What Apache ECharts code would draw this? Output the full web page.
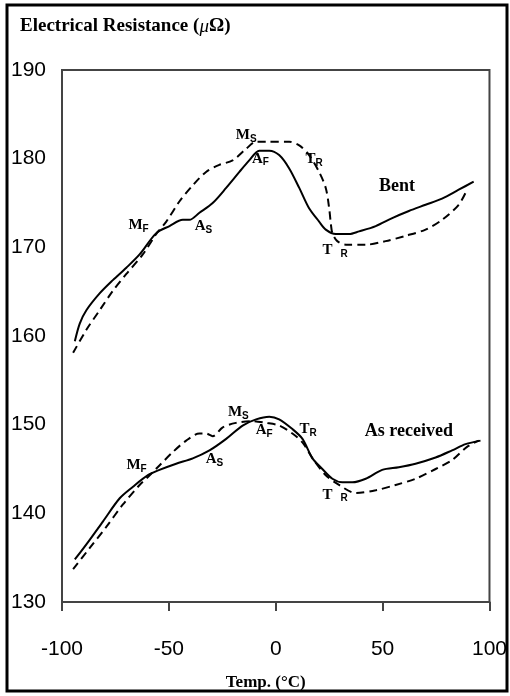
<!DOCTYPE html>
<html>
<head>
<meta charset="utf-8">
<script src="https://cdn.jsdelivr.net/npm/echarts@6/dist/echarts.min.js"></script>
<style>
html,body{margin:0;padding:0;background:#fff;}
#chart{width:510px;height:696px;}
</style>
</head>
<body>
<div id="chart"></div>
<script>
// ---- data (temperature in °C, resistance in µΩ) ----
const xTicks = [-100, -50, 0, 50, 100];
const yTicks = [130, 140, 150, 160, 170, 180, 190];

// Bent sample, solid curve
const bentSolidT = [-94.0,-91.7,-88.6,-82.4,-76.2,-69.9,-63.7,-55.9,-49.7,-43.5,-40.4,-35.7,-29.5,-23.2,-17.0,-12.4,-7.7,-3.0,1.6,6.3,11.0,15.6,20.3,23.4,28.1,34.3,39.0,46.8,54.5,62.3,70.1,77.8,85.6,92.6];
const bentSolidR = [159.4,161.4,162.9,164.8,166.3,167.7,169.2,171.6,172.4,173.1,173.1,173.9,175.0,176.7,178.5,179.8,180.9,180.9,180.4,178.9,176.7,174.4,172.9,172.0,171.5,171.5,171.8,172.4,173.3,174.1,174.8,175.5,176.5,177.4];

// Bent sample, dashed curve
const bentDashT = [-94.8,-88.6,-82.4,-76.2,-69.9,-62.2,-55.9,-51.2,-45.0,-38.8,-32.6,-26.4,-20.2,-13.9,-9.2,-4.6,6.3,11.0,15.6,20.3,23.4,25.0,25.8,26.5,28.8,32.8,42.1,51.4,60.8,70.1,77.8,85.6,89.5];
const bentDashR = [158.1,160.7,162.9,165.1,167.0,169.2,171.5,172.9,175.2,177.0,178.5,179.3,179.8,181.1,181.9,181.9,181.9,181.5,180.4,178.5,176.7,174.4,172.6,171.6,170.7,170.3,170.3,170.7,171.3,172.0,173.1,174.8,176.5];

// As received sample, solid curve
const asRecSolidT = [-94.0,-88.6,-80.8,-73.0,-66.8,-59.8,-54.4,-46.6,-38.8,-31.0,-23.2,-15.5,-9.2,-3.0,1.6,7.8,12.5,17.2,21.8,26.5,31.2,35.8,42.1,49.8,57.6,65.4,74.8,82.5,88.8,95.8];
const asRecSolidR = [134.8,136.5,139.1,141.7,143.0,144.3,144.9,145.6,146.2,147.1,148.4,149.9,150.6,150.9,150.6,149.5,148.4,146.2,145.0,143.9,143.5,143.5,143.9,144.9,145.2,145.6,146.3,147.1,147.8,148.2];

// As received sample, dashed curve
const asRecDashT = [-94.8,-87.0,-79.2,-71.5,-63.7,-59.8,-54.4,-48.2,-41.9,-35.7,-32.6,-29.5,-24.8,-18.6,-10.8,-4.6,1.6,7.8,12.5,17.2,23.4,29.6,37.4,46.8,56.1,65.4,74.8,82.5,89.5,95.0];
const asRecDashR = [133.7,136.1,138.5,141.0,143.2,144.1,145.4,146.9,148.2,149.0,149.0,148.7,149.7,150.2,150.4,150.2,149.9,149.0,148.0,146.2,144.3,143.2,142.3,142.6,143.2,143.9,145.0,146.0,147.5,148.2];

// annotation labels (text, anchor temperature, anchor resistance)
const bentNotes = [
  ['{m|M}{s|S}', -13.8, 182.6],
  ['{m|A}{s|F}', -7.2, 180.0],
  ['{m|T}{s|R}', 18.0, 179.9],
  ['{b|Bent}', 56.7, 176.9],
  ['{m|M}{s|F}', -64.2, 172.5],
  ['{m|A}{s|S}', -33.8, 172.4],
  ['{m|T}{g| }{s|R}', 27.8, 169.7]
];
const asRecNotes = [
  ['{m|M}{s|S}', -17.5, 151.4],
  ['{m|A}{s|F}', -5.4, 149.4],
  ['{m|T}{s|R}', 15.2, 149.5],
  ['{b|As received}', 62.3, 149.3],
  ['{m|M}{s|F}', -65.1, 145.4],
  ['{m|A}{s|S}', -28.7, 146.1],
  ['{m|T}{g| }{s|R}', 27.8, 142.1]
];

function pairs(xs, ys){ return xs.map((x,i)=>[x, ys[i]]); }

const rich = {
  m: {fontFamily:'Liberation Serif', fontWeight:'bold', fontSize:15, color:'#000', lineHeight:18, verticalAlign:'middle'},
  s: {fontFamily:'Liberation Sans', fontWeight:'bold', fontSize:10, color:'#000', lineHeight:18, verticalAlign:'bottom'},
  g: {fontSize:10, width:8, lineHeight:18},
  b: {fontFamily:'Liberation Serif', fontWeight:'bold', fontSize:18, color:'#000', lineHeight:18}
};

function notes(list){
  return {
    symbol: 'circle', symbolSize: 0, silent: true,
    itemStyle: {color: 'transparent'},
    label: {show: true, position: 'inside', formatter: p => p.name, rich: rich},
    data: list.map(n => ({name: n[0], coord: [n[1], n[2]], value: n[0]}))
  };
}

const solid = {color:'#000', width:2, type:'solid'};
const dashed = {color:'#000', width:2, type:[8,5]};
const tickFont = 'Liberation Sans Narrow, Arial Narrow, Liberation Sans, sans-serif';

const chart = echarts.init(document.getElementById('chart'), null, {renderer:'canvas'});
chart.setOption({
  animation: false,
  backgroundColor: '#fff',
  title: {
    text: '{a|Electrical Resistance (}{i|μ}{a|Ω)}',
    left: 15, top: 12,
    textStyle: {
      rich: {
        a: {fontFamily:'Liberation Serif', fontWeight:'bold', fontSize:19, color:'#000'},
        i: {fontFamily:'Liberation Serif', fontStyle:'italic', fontWeight:'normal', fontSize:19, color:'#000'}
      }
    }
  },
  graphic: [{
    type: 'rect', silent: true,
    shape: {x: 7, y: 5, width: 500, height: 686},
    style: {fill: 'none', stroke: '#000', lineWidth: 3}
  }],
  grid: {left: 62, right: 18, top: 70, bottom: 88, show: true, borderColor: '#444', borderWidth: 2, backgroundColor: 'transparent'},
  xAxis: {
    type: 'value', min: xTicks[0], max: xTicks[xTicks.length-1], interval: 50,
    name: 'Temp. (°C)', nameLocation: 'middle', nameGap: 72,
    nameTextStyle: {fontFamily:'Liberation Serif', fontWeight:'bold', fontSize:17, color:'#000', padding:[0,20,0,0]},
    axisLine: {show: true, onZero: false, lineStyle: {color:'#444', width:2}},
    axisTick: {show: true, length: 9, lineStyle: {color:'#444', width:2}},
    axisLabel: {margin: 37, fontFamily: tickFont, fontSize: 21, color:'#000'},
    splitLine: {show: false}
  },
  yAxis: {
    type: 'value', min: yTicks[0], max: yTicks[yTicks.length-1], interval: 10,
    axisLine: {show: true, onZero: false, lineStyle: {color:'#444', width:2}},
    axisTick: {show: false},
    axisLabel: {margin: 16, fontFamily: tickFont, fontSize: 21, color:'#000', verticalAlign:'middle', padding:[0,0,6,0]},
    splitLine: {show: false}
  },
  series: [
    {name:'Bent (solid)', type:'line', data: pairs(bentSolidT, bentSolidR), smooth: 0.3, showSymbol:false, lineStyle: solid, markPoint: notes(bentNotes)},
    {name:'Bent (dashed)', type:'line', data: pairs(bentDashT, bentDashR), smooth: 0.3, showSymbol:false, lineStyle: dashed},
    {name:'As received (solid)', type:'line', data: pairs(asRecSolidT, asRecSolidR), smooth: 0.3, showSymbol:false, lineStyle: solid, markPoint: notes(asRecNotes)},
    {name:'As received (dashed)', type:'line', data: pairs(asRecDashT, asRecDashR), smooth: 0.3, showSymbol:false, lineStyle: dashed}
  ]
});
</script>
</body>
</html>
